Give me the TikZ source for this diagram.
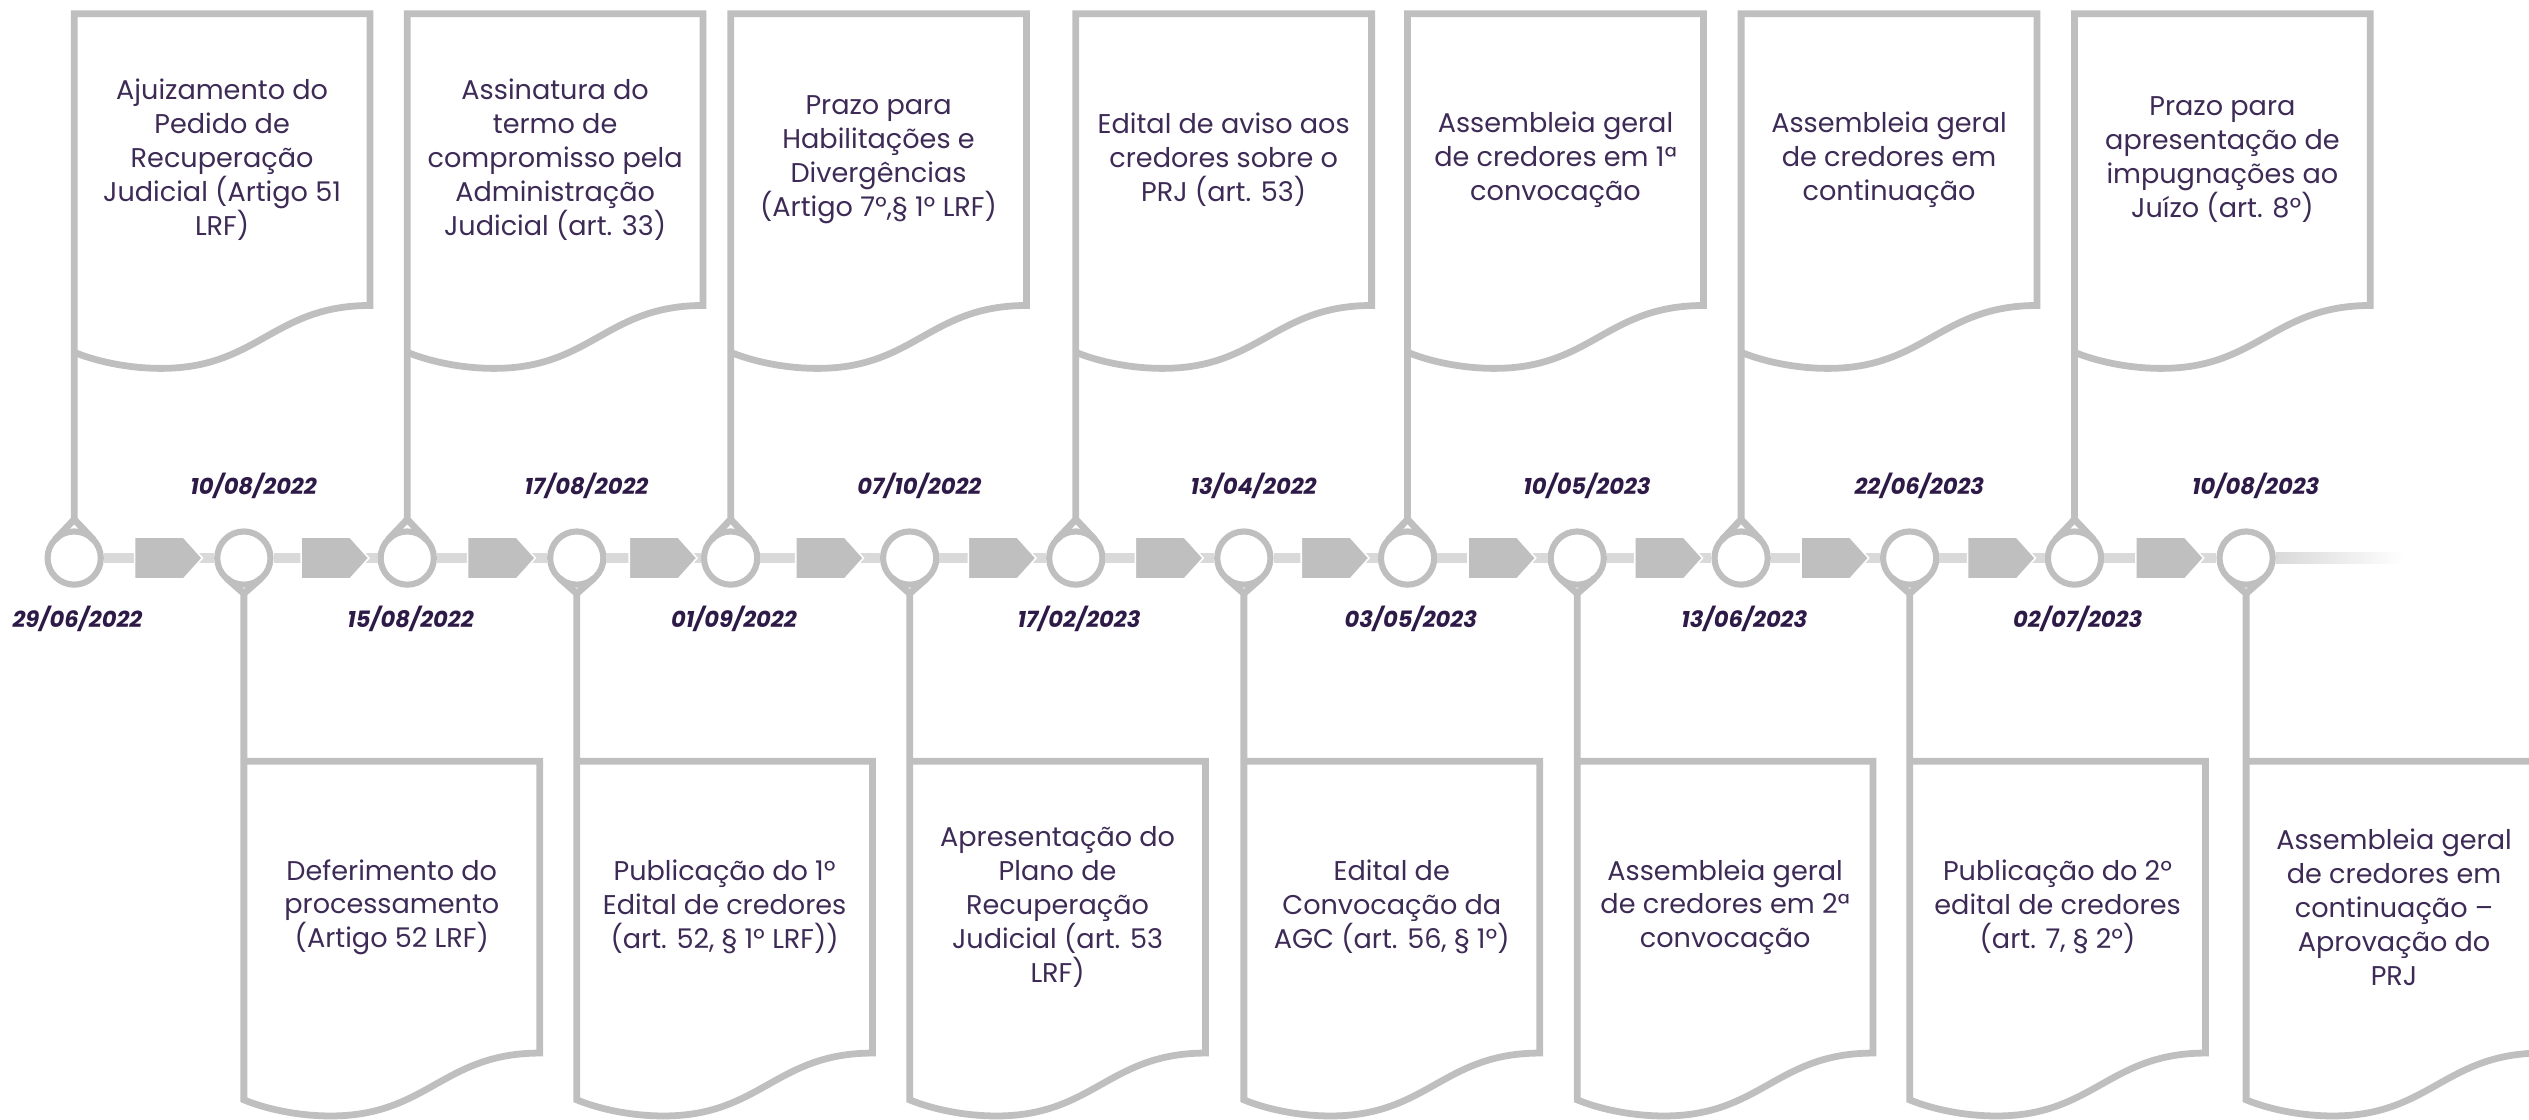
\documentclass[tikz,border=0pt]{standalone}
\usepackage{fontspec}
\setmainfont{Poppins}
\usetikzlibrary{shapes.symbols}
\definecolor{gry}{HTML}{BFBFBF}
\definecolor{barc}{HTML}{D9D9D9}
\definecolor{txt}{HTML}{3D2B56}
\definecolor{datec}{HTML}{2E1A47}

\begin{document}
\begin{tikzpicture}[x=1pt,y=1pt,
	drop/.style={circle,draw=gry,fill=white,line width=3.8pt,minimum size=33pt,inner sep=0pt,outer sep=0pt},
	flag/.style={draw=gry,line width=4.2pt,line join=miter},
	flagbox/.style={anchor=north west,minimum width=183pt,minimum height=180.5pt,inner sep=0pt,align=center,text=txt,font=\fontsize{16.8}{21}\selectfont},
	date/.style={text=datec,font=\fontsize{14}{16}\selectfont\bfseries\itshape},
	bar/.style={draw=barc,line width=6.6pt,shorten >=1.9pt,shorten <=1.9pt},
	stepbox/.style={signal,signal to=east,signal pointer angle=96,fill=gry,draw=white,line width=1pt,minimum width=42pt,minimum height=26pt,inner sep=0pt},
	wave/.style={to path={.. controls +(-60,0) and +(60,0) .. ++(-129.5,-39) .. controls +(-22,0) and +(12,-5) .. (\tikztotarget)}}]
	\useasboundingbox (0,0) rectangle (1568,-694);
	\clip (0,0) rectangle (1568,-694);

	% pins on the time line
	\node[drop](p0) at (46,-346){};
	\node[drop](p1) at (151.2,-346){};
	\node[drop](p2) at (252.5,-346){};
	\node[drop](p3) at (357.6,-346){};
	\node[drop](p4) at (453,-346){};
	\node[drop](p5) at (564,-346){};
	\node[drop](p6) at (667,-346){};
	\node[drop](p7) at (771.2,-346){};
	\node[drop](p8) at (872.7,-346){};
	\node[drop](p9) at (977.9,-346){};
	\node[drop](p10) at (1079.5,-346){};
	\node[drop](p11) at (1184,-346){};
	\node[drop](p12) at (1286.2,-346){};
	\node[drop](p13) at (1392.6,-346){};

	% events above
	\node[flagbox](b0) at (p0 |- 0,-8.5){Ajuizamento do\\Pedido de\\Recuperação\\Judicial (Artigo 51\\LRF)};
	\node[flagbox](b2) at (p2 |- 0,-8.5){Assinatura do\\termo de\\compromisso pela\\Administração\\Judicial (art. 33)};
	\node[flagbox](b4) at (p4 |- 0,-8.5){Prazo para\\Habilitações e\\Divergências\\(Artigo 7º,§ 1º LRF)};
	\node[flagbox](b6) at (p6 |- 0,-8.5){Edital de aviso aos\\credores sobre o\\PRJ (art. 53)};
	\node[flagbox](b8) at (p8 |- 0,-8.5){Assembleia geral\\de credores em 1ª\\convocação};
	\node[flagbox](b10) at (p10 |- 0,-8.5){Assembleia geral\\de credores em\\continuação};
	\node[flagbox](b12) at (p12 |- 0,-8.5){Prazo para\\apresentação de\\impugnações ao\\Juízo (art. 8º)};

	% events below
	\node[flagbox](b1) at (p1 |- 0,-472){Deferimento do\\processamento\\(Artigo 52 LRF)};
	\node[flagbox](b3) at (p3 |- 0,-472){Publicação do 1º\\Edital de credores\\(art. 52, § 1º LRF))};
	\node[flagbox](b5) at (p5 |- 0,-472){Apresentação do\\Plano de\\Recuperação\\Judicial (art. 53\\LRF)};
	\node[flagbox](b7) at (p7 |- 0,-472){Edital de\\Convocação da\\AGC (art. 56, § 1º)};
	\node[flagbox](b9) at (p9 |- 0,-472){Assembleia geral\\de credores em 2ª\\convocação};
	\node[flagbox](b11) at (p11 |- 0,-472){Publicação do 2º\\edital de credores\\(art. 7, § 2º)};
	\node[flagbox](b13) at (p13 |- 0,-472){Assembleia geral\\de credores em\\continuação –\\Aprovação do\\PRJ};

	% flags
	\draw[flag] (p0.44) -- ([yshift=24]p0.center) -- (p0.136) ([yshift=24]p0.center) -- (b0.north west) -- (b0.north east) -- (b0.south east) to[wave] ([yshift=-29]b0.south west);
	\draw[flag] (p2.44) -- ([yshift=24]p2.center) -- (p2.136) ([yshift=24]p2.center) -- (b2.north west) -- (b2.north east) -- (b2.south east) to[wave] ([yshift=-29]b2.south west);
	\draw[flag] (p4.44) -- ([yshift=24]p4.center) -- (p4.136) ([yshift=24]p4.center) -- (b4.north west) -- (b4.north east) -- (b4.south east) to[wave] ([yshift=-29]b4.south west);
	\draw[flag] (p6.44) -- ([yshift=24]p6.center) -- (p6.136) ([yshift=24]p6.center) -- (b6.north west) -- (b6.north east) -- (b6.south east) to[wave] ([yshift=-29]b6.south west);
	\draw[flag] (p8.44) -- ([yshift=24]p8.center) -- (p8.136) ([yshift=24]p8.center) -- (b8.north west) -- (b8.north east) -- (b8.south east) to[wave] ([yshift=-29]b8.south west);
	\draw[flag] (p10.44) -- ([yshift=24]p10.center) -- (p10.136) ([yshift=24]p10.center) -- (b10.north west) -- (b10.north east) -- (b10.south east) to[wave] ([yshift=-29]b10.south west);
	\draw[flag] (p12.44) -- ([yshift=24]p12.center) -- (p12.136) ([yshift=24]p12.center) -- (b12.north west) -- (b12.north east) -- (b12.south east) to[wave] ([yshift=-29]b12.south west);
	\draw[flag] (p1.-49) -- ([yshift=-22]p1.center) -- (p1.-131) ([yshift=-22]p1.center) -- (b1.north west) -- (b1.north east) -- (b1.south east) to[wave] ([yshift=-29]b1.south west) -- (b1.north west);
	\draw[flag] (p3.-49) -- ([yshift=-22]p3.center) -- (p3.-131) ([yshift=-22]p3.center) -- (b3.north west) -- (b3.north east) -- (b3.south east) to[wave] ([yshift=-29]b3.south west) -- (b3.north west);
	\draw[flag] (p5.-49) -- ([yshift=-22]p5.center) -- (p5.-131) ([yshift=-22]p5.center) -- (b5.north west) -- (b5.north east) -- (b5.south east) to[wave] ([yshift=-29]b5.south west) -- (b5.north west);
	\draw[flag] (p7.-49) -- ([yshift=-22]p7.center) -- (p7.-131) ([yshift=-22]p7.center) -- (b7.north west) -- (b7.north east) -- (b7.south east) to[wave] ([yshift=-29]b7.south west) -- (b7.north west);
	\draw[flag] (p9.-49) -- ([yshift=-22]p9.center) -- (p9.-131) ([yshift=-22]p9.center) -- (b9.north west) -- (b9.north east) -- (b9.south east) to[wave] ([yshift=-29]b9.south west) -- (b9.north west);
	\draw[flag] (p11.-49) -- ([yshift=-22]p11.center) -- (p11.-131) ([yshift=-22]p11.center) -- (b11.north west) -- (b11.north east) -- (b11.south east) to[wave] ([yshift=-29]b11.south west) -- (b11.north west);
	\draw[flag] (p13.-49) -- ([yshift=-22]p13.center) -- (p13.-131) ([yshift=-22]p13.center) -- (b13.north west) -- (b13.north east) -- (b13.south east) to[wave] ([yshift=-29]b13.south west) -- (b13.north west);

	% time line
	\path[bar] (p0) edge node[stepbox]{} (p1)
		(p1) edge node[stepbox]{} (p2)
		(p2) edge node[stepbox]{} (p3)
		(p3) edge node[stepbox]{} (p4)
		(p4) edge node[stepbox]{} (p5)
		(p5) edge node[stepbox]{} (p6)
		(p6) edge node[stepbox]{} (p7)
		(p7) edge node[stepbox]{} (p8)
		(p8) edge node[stepbox]{} (p9)
		(p9) edge node[stepbox]{} (p10)
		(p10) edge node[stepbox]{} (p11)
		(p11) edge node[stepbox]{} (p12)
		(p12) edge node[stepbox]{} (p13);
	\coordinate (fadeend) at (1491,-342.7);
	\shade[left color=barc,right color=white] ([shift={(1.9,-3.3)}]p13.east) rectangle (fadeend);

	% dates
	\node[date](d0) at ([shift={(2,-38)}]p0.center){29/06/2022};
	\node[date](d1) at ([shift={(6,45)}]p1.center){10/08/2022};
	\node[date](d2) at ([shift={(2,-38)}]p2.center){15/08/2022};
	\node[date](d3) at ([shift={(6,45)}]p3.center){17/08/2022};
	\node[date](d4) at ([shift={(2,-38)}]p4.center){01/09/2022};
	\node[date](d5) at ([shift={(6,45)}]p5.center){07/10/2022};
	\node[date](d6) at ([shift={(2,-38)}]p6.center){17/02/2023};
	\node[date](d7) at ([shift={(6,45)}]p7.center){13/04/2022};
	\node[date](d8) at ([shift={(2,-38)}]p8.center){03/05/2023};
	\node[date](d9) at ([shift={(6,45)}]p9.center){10/05/2023};
	\node[date](d10) at ([shift={(2,-38)}]p10.center){13/06/2023};
	\node[date](d11) at ([shift={(6,45)}]p11.center){22/06/2023};
	\node[date](d12) at ([shift={(2,-38)}]p12.center){02/07/2023};
	\node[date](d13) at ([shift={(6,45)}]p13.center){10/08/2023};
\end{tikzpicture}
\end{document}
